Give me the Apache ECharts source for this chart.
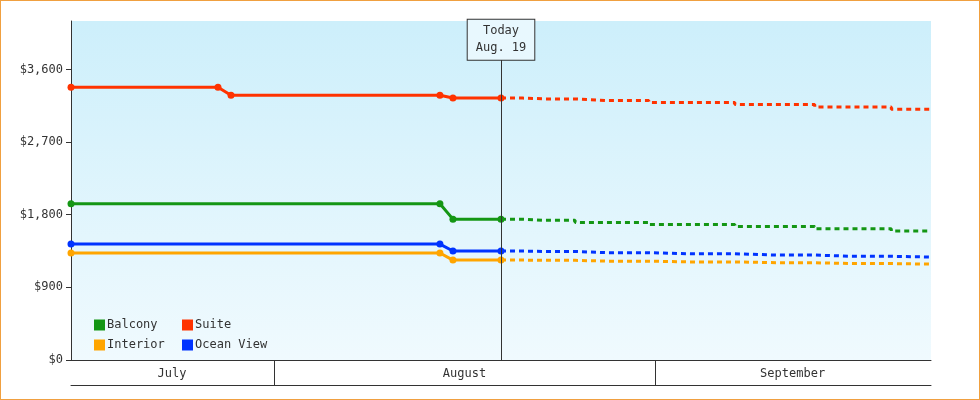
<!DOCTYPE html>
<html><head><meta charset="utf-8">
<script src="https://cdn.jsdelivr.net/npm/echarts@6/dist/echarts.min.js"></script>
<style>html,body{margin:0;padding:0;background:#fff}#c{width:978px;height:398px;border:1px solid #f0a040}</style>
</head><body><div id="c"></div>
<script>
// x = day number (Jul 1 = 0, Aug 1 = 31, Sep 1 = 62)
const seriesNames = ['Balcony','Interior','Suite','Ocean View'];
const colors = {'Balcony':'#149614','Interior':'#ffa500','Suite':'#ff3300','Ocean View':'#0033ff'};
const actualDays = {
  'Suite':      [14.48, 26.44, 27.5, 44.5, 45.56, 49.47],
  'Balcony':    [14.48, 44.5, 45.56, 49.47],
  'Ocean View': [14.48, 44.5, 45.56, 49.47],
  'Interior':   [14.48, 44.5, 45.56, 49.47]
};
const actualVals = {
  'Suite':      [3380, 3380, 3280, 3280, 3245, 3245],
  'Balcony':    [1935, 1935, 1745, 1745],
  'Ocean View': [1436, 1436, 1350, 1350],
  'Interior':   [1325, 1325, 1238, 1238]
};
const forecastDays = [49.47, 53, 58, 65, 72, 78, 84.46];
const forecastVals = {
  'Suite':      [3245, 3235, 3215, 3190, 3165, 3135, 3107],
  'Balcony':    [1745, 1730, 1705, 1680, 1655, 1625, 1597],
  'Ocean View': [1350, 1345, 1330, 1315, 1300, 1285, 1275],
  'Interior':   [1238, 1235, 1225, 1215, 1205, 1195, 1188]
};
const monthNames = ['July','August','September'];
const monthMid = [22.7, 46.5, 73.2];
const monthBounds = [31, 62];
const todayDay = 49.47;
const todayLabel = 'Today\nAug. 19';

const font = 'DejaVu Sans Mono';
const series = [];
seriesNames.forEach(n => {
  const s = {
    name: n, type: 'line', z: 3,
    data: actualDays[n].map((d,i)=>[d, actualVals[n][i]]),
    lineStyle:{color:colors[n], width:3}, itemStyle:{color:colors[n]},
    symbol:'circle', symbolSize:7, showSymbol:true
  };
  if (n === 'Suite') {
    s.markLine = {
      silent:true, symbol:'none',
      lineStyle:{color:'#333', type:'solid', width:1},
      label:{show:true, position:'end', formatter: todayLabel, distance:0,
        fontFamily:font, fontSize:12, color:'#333', backgroundColor:'#e8f8fe',
        borderColor:'#333', borderWidth:1, padding:[3,8], lineHeight:17},
      data:[[{coord:[todayDay,0]},{coord:[todayDay,3720]}]]
    };
  }
  series.push(s);
  series.push({
    type:'line', z:2, data: forecastDays.map((d,i)=>[d, forecastVals[n][i]]),
    lineStyle:{color:colors[n], width:3, type:[5,4]}, itemStyle:{color:colors[n]},
    symbol:'none', step:'middle'
  });
});
const chart = echarts.init(document.getElementById('c'));
const legendBase = {orient:'vertical', itemWidth:11, itemHeight:11, itemGap:8, icon:'rect',
  textStyle:{fontFamily:font, fontSize:12, color:'#333', padding:[0,0,0,-3]}};
chart.setOption({
  animation:false,
  textStyle:{fontFamily:font},
  grid:{left:70, right:48, top:20, bottom:39},
  legend:[
    Object.assign({}, legendBase, {left:88, top:313, data:['Balcony','Interior']}),
    Object.assign({}, legendBase, {left:176, top:313, data:['Suite','Ocean View']})
  ],
  xAxis:[
    {type:'value', min:14.48, max:84.46, axisLine:{lineStyle:{color:'#333'}}, axisTick:{show:false}, axisLabel:{show:false}, splitLine:{show:false}},
    {type:'value', min:14.48, max:84.46, position:'bottom', offset:25,
     axisLine:{lineStyle:{color:'#333'}},
     axisTick:{show:true, inside:true, length:25, customValues:monthBounds, lineStyle:{color:'#333'}},
     axisLabel:{inside:true, margin:5, customValues:monthMid, fontFamily:font, fontSize:12, color:'#333',
       formatter:(v)=>monthNames[monthMid.indexOf(v)]},
     splitLine:{show:false}}
  ],
  yAxis:{type:'value', min:0, max:4200, interval:900,
    axisLine:{show:true, lineStyle:{color:'#333'}}, axisTick:{show:true, length:5},
    axisLabel:{showMaxLabel:false, fontFamily:font, fontSize:12, color:'#333', formatter:v=>'$'+v.toLocaleString('en-US')},
    splitLine:{show:false},
    splitArea:{show:false}},
  graphic:[{type:'rect', z:-1, shape:{x:70,y:20,width:860,height:340},
    style:{fill:new echarts.graphic.LinearGradient(0,0,0,1,[{offset:0,color:'#cdeffb'},{offset:1,color:'#f0fafe'}])}}],
  series: series
});
</script></body></html>
